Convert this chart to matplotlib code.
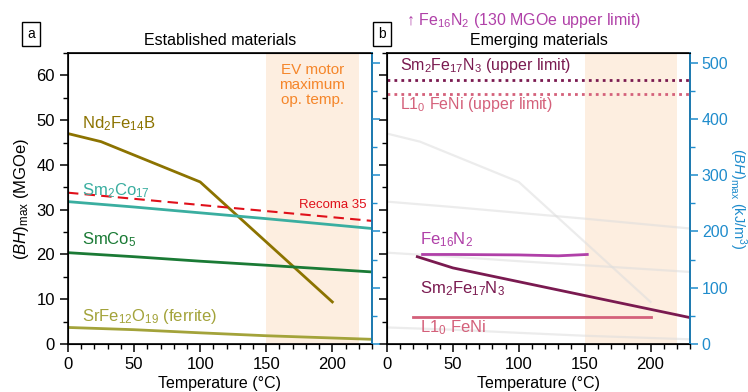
import matplotlib
matplotlib.use("Agg")
import matplotlib.pyplot as plt
from matplotlib.ticker import MultipleLocator

plt.rcParams['font.family'] = ['Liberation Sans', 'DejaVu Sans']
plt.rcParams['mathtext.fontset'] = 'custom'
plt.rcParams['mathtext.rm'] = 'Liberation Sans'
plt.rcParams['mathtext.it'] = 'Liberation Sans:italic'
plt.rcParams['mathtext.bf'] = 'Liberation Sans:bold'

# ---- data ----
nd_T = [0, 25, 100, 200]
nd_v = [47.0, 45.2, 36.2, 9.4]
smco17_T = [0, 50, 100, 150, 230]
smco17_v = [31.8, 30.6, 29.3, 28.0, 25.8]
recoma_T = [0, 230]
recoma_v = [33.8, 27.5]
smco5_T = [0, 50, 100, 150, 230]
smco5_v = [20.4, 19.5, 18.5, 17.6, 16.1]
ferrite_T = [0, 50, 100, 150, 230]
ferrite_v = [3.7, 3.2, 2.5, 1.85, 1.05]

fe16n2_T = [27, 50, 100, 130, 152]
fe16n2_v = [20.0, 20.0, 19.9, 19.7, 20.0]
smfen_T = [23, 50, 230]
smfen_v = [19.5, 17.0, 5.9]
feni_T = [20, 200]
feni_v = [5.95, 5.95]
smfen_limit = 59.0
feni_limit = 55.9

ev_range = (150, 220)
MGOE_TO_KJ = 7.9577

c_nd = '#8c7300'
c_smco17 = '#3aaea0'
c_recoma = '#e0101a'
c_smco5 = '#1a7a35'
c_ferrite = '#a3a33a'
c_fe16 = '#b040a8'
c_smfen = '#7a1a50'
c_feni = '#d4607a'
c_blue = '#1f8ccc'
c_orange = '#f5862a'
c_shade = '#fdeee0'

fig = plt.figure(figsize=(7.48, 3.92), dpi=100)
axa = fig.add_axes([0.0909, 0.1224, 0.4064, 0.7424])
axb = fig.add_axes([0.5174, 0.1224, 0.4051, 0.7424])

for ax in (axa, axb):
    ax.set_xlim(0, 230)
    ax.set_ylim(0, 65)
    ax.axvspan(*ev_range, color=c_shade, lw=0, zorder=0)
    ax.xaxis.set_major_locator(MultipleLocator(50))
    ax.xaxis.set_minor_locator(MultipleLocator(10))
    ax.yaxis.set_major_locator(MultipleLocator(10))
    ax.yaxis.set_minor_locator(MultipleLocator(5))
    ax.tick_params(which='major', length=5.5, width=1.1, labelsize=12, direction='out', pad=4)
    ax.tick_params(which='minor', length=3.5, width=1.0, direction='out')
    for s in ax.spines.values():
        s.set_linewidth(1.2)
    ax.set_xlabel('Temperature (°C)', fontsize=11.5, labelpad=3)
    tw = ax.twinx()
    tw.set_ylim(0, 65 * MGOE_TO_KJ)
    tw.yaxis.set_major_locator(MultipleLocator(100))
    tw.yaxis.set_minor_locator(MultipleLocator(50))
    tw.tick_params(which='major', length=5.5, width=1.1, colors=c_blue, labelsize=11.5, pad=3)
    tw.tick_params(which='minor', length=3.5, width=1.0, colors=c_blue)
    tw.spines['right'].set_color(c_blue)
    tw.spines['right'].set_linewidth(1.2)
    if ax is axa:
        tw.tick_params(labelright=False)
    else:
        ax.tick_params(labelleft=False)

fig.text(738 / 748, 0.1224 + 0.7424 / 2, '$(BH)_\\mathrm{max}$ (kJ/m$^3$)', color=c_blue,
         fontsize=10.5, rotation=270, ha='center', va='center')

# panel a
lw = 2.0
axa.plot(nd_T, nd_v, color=c_nd, lw=lw)
axa.plot(smco17_T, smco17_v, color=c_smco17, lw=lw)
axa.plot(recoma_T, recoma_v, color=c_recoma, lw=1.5, ls=(0, (5, 3)))
axa.plot(smco5_T, smco5_v, color=c_smco5, lw=lw)
axa.plot(ferrite_T, ferrite_v, color=c_ferrite, lw=lw)
axa.set_ylabel('$(BH)_\\mathrm{max}$ (MGOe)', fontsize=12, labelpad=4)
axa.set_title('Established materials', fontsize=11.5, pad=6)

axa.text(10.5, 49.3, 'Nd$_2$Fe$_{14}$B', color=c_nd, fontsize=12, va='center')
axa.text(10.5, 34.3, 'Sm$_2$Co$_{17}$', color=c_smco17, fontsize=12, va='center')
axa.text(10.5, 23.2, 'SmCo$_5$', color=c_smco5, fontsize=12, va='center')
axa.text(10.5, 6.1, 'SrFe$_{12}$O$_{19}$ (ferrite)', color=c_ferrite, fontsize=12, va='center')
axa.text(226, 31.0, 'Recoma 35', color=c_recoma, fontsize=9.5, va='center', ha='right')
axa.text(185, 57.8, 'EV motor\nmaximum\nop. temp.', color=c_orange, fontsize=11,
         ha='center', va='center', linespacing=1.1)

# panel b ghosts
ghost = dict(color='#dddddd', lw=1.6, alpha=0.55, zorder=1)
axb.plot(nd_T, nd_v, **ghost)
axb.plot(smco17_T, smco17_v, **ghost)
axb.plot(smco5_T, smco5_v, **ghost)
axb.plot(ferrite_T, ferrite_v, **ghost)

axb.axhline(smfen_limit, color=c_smfen, lw=2, ls=(0, (1, 1.5)))
axb.axhline(feni_limit, color=c_feni, lw=2, ls=(0, (1, 1.5)))
axb.plot(fe16n2_T, fe16n2_v, color=c_fe16, lw=lw)
axb.plot(smfen_T, smfen_v, color=c_smfen, lw=lw)
axb.plot(feni_T, feni_v, color=c_feni, lw=lw)

axb.text(10, 62.2, 'Sm$_2$Fe$_{17}$N$_3$ (upper limit)', color=c_smfen, fontsize=11.5, va='center')
axb.text(10, 53.6, 'L1$_0$ FeNi (upper limit)', color=c_feni, fontsize=11.5, va='center')
axb.text(25, 23.4, 'Fe$_{16}$N$_2$', color=c_fe16, fontsize=12, va='center')
axb.text(25, 12.4, 'Sm$_2$Fe$_{17}$N$_3$', color=c_smfen, fontsize=12, va='center')
axb.text(25, 3.7, 'L1$_0$ FeNi', color=c_feni, fontsize=12, va='center')
axb.set_title('Emerging materials', fontsize=11.5, pad=6)
fig.text(406 / 748, 1 - 20 / 392, '↑ Fe$_{16}$N$_2$ (130 MGOe upper limit)', color=c_fe16,
         fontsize=11.5, va='center', ha='left')

# panel letters
fig.text(31 / 748, 1 - 34 / 392, 'a', fontsize=10, ha='center', va='center',
         bbox=dict(boxstyle='square,pad=0.35', fc='white', ec='black', lw=1))
fig.text(382 / 748, 1 - 34 / 392, 'b', fontsize=10, ha='center', va='center',
         bbox=dict(boxstyle='square,pad=0.35', fc='white', ec='black', lw=1))

fig.savefig('out.png', dpi=100)
